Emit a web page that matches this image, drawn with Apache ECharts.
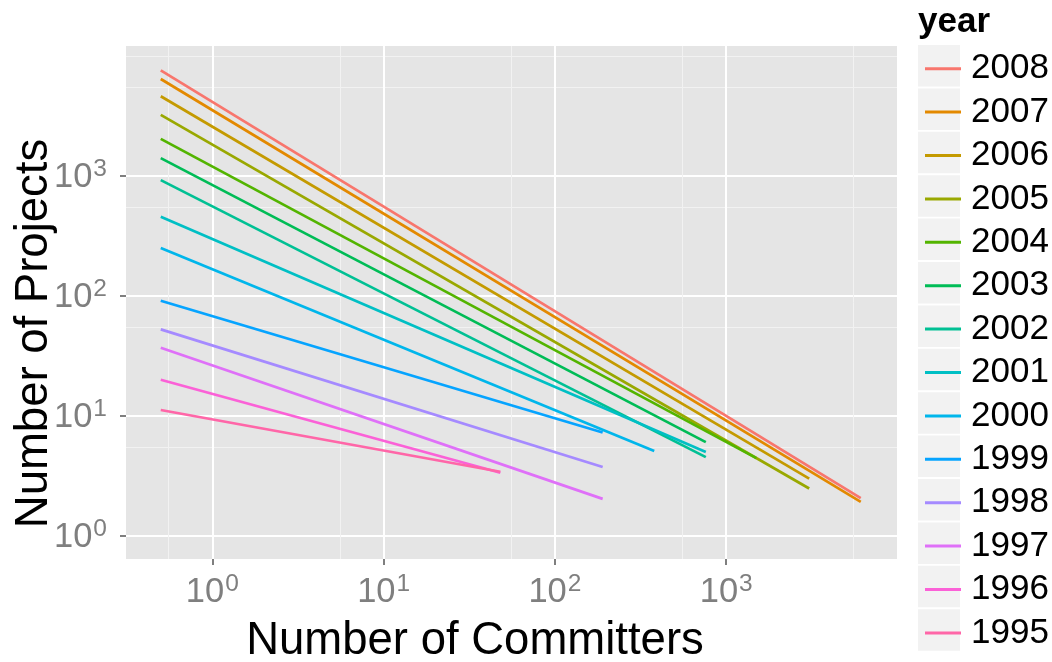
<!DOCTYPE html>
<html><head><meta charset="utf-8">
<script src="https://cdn.jsdelivr.net/npm/echarts@6/dist/echarts.min.js"></script>
<style>html,body{margin:0;padding:0;background:#fff}#chart{width:1052px;height:662px}</style>
</head><body><div id="chart"></div>
<script>
// ---- data ----
const years = ['2008','2007','2006','2005','2004','2003','2002','2001','2000','1999','1998','1997','1996','1995'];
const startCommitters = [0.5,0.5,0.5,0.5,0.5,0.5,0.5,0.5,0.5,0.5,0.5,0.5,0.5,0.5];
const endCommitters = [6100,6100,3050,3050,1500,760,760,760,380,190,190,190,48,48];
const startProjects = [7640,6470,4640,3245,2046,1413,926,458,251,91.4,52.7,37,20,11.2];
const endProjects = [2.06,1.92,3.0,2.48,4.44,6.04,4.53,5.0,5.1,7.26,3.74,2.03,3.35,3.42];
const colors = ['#F8766D','#E38900','#C49A00','#99A800','#53B400','#00BC56','#00C094','#00BFC4','#00B6EB','#06A4FF','#A58AFF','#DF70F8','#FB61D7','#FF66A8'];
const xMajorBreaks = [1,10,100,1000];
const yMajorBreaks = [1,10,100,1000];
const xMinorBreaks = [0.555,5.55,55.5,555,5550];
const yMinorBreaks = [5.5,55,550,5500,10000];
const xLimits = [0.3133, 9931];
const yLimits = [0.6397, 12190];

const FONT = "'Liberation Sans', Arial, Helvetica, sans-serif";
const chart = echarts.init(document.getElementById('chart'));

const expLabel = v => '{b|10}{s|' + Math.round(Math.log10(v)) + '}';
const rich = {
  b: {fontSize: 34.5, color: '#7F7F7F', fontFamily: FONT, lineHeight: 38, verticalAlign: 'bottom'},
  s: {fontSize: 24.5, color: '#7F7F7F', fontFamily: FONT, lineHeight: 25, verticalAlign: 'top', padding: [0,0,0,1]}
};

const series = years.map((y, i) => ({
  name: y, type: 'line', xAxisIndex: 0, yAxisIndex: 0, symbol: 'none', silent: true,
  lineStyle: {color: colors[i], width: 2.7}, itemStyle: {color: colors[i]},
  data: [[startCommitters[i], startProjects[i]], [endCommitters[i], endProjects[i]]]
}));

const keyBoxes = years.map((y, i) => ({
  type: 'rect', left: 918, top: 45 + 43.4 * i, z: -1,
  shape: {width: 42, height: 41.5}, style: {fill: '#F2F2F2'}
}));

chart.setOption({
  animation: false,
  backgroundColor: '#ffffff',
  grid: {left: 126, top: 46, right: 155, bottom: 103, show: true, backgroundColor: '#E5E5E5', borderWidth: 0, containLabel: false, outerBoundsMode: 'none'},
  xAxis: [{
    type: 'log', logBase: 10, min: xLimits[0], max: xLimits[1],
    name: 'Number of Committers', nameLocation: 'middle', nameGap: 59, nameMoveOverlap: false,
    nameTextStyle: {fontSize: 45.5, color: '#000', fontFamily: FONT, padding: [0, 73, 0, 0]},
    axisLine: {show: false},
    axisTick: {show: true, length: 6, lineStyle: {color: '#7F7F7F', width: 2}, customValues: xMajorBreaks},
    axisLabel: {customValues: xMajorBreaks, formatter: expLabel, rich: rich, margin: 13},
    splitLine: {show: true, lineStyle: {color: '#ffffff', width: 2}},
    minorTick: {show: false}, minorSplitLine: {show: false}
  }, {
    type: 'log', logBase: 10, min: xLimits[0], max: xLimits[1],
    axisLine: {show: false},
    axisTick: {show: false, customValues: xMinorBreaks},
    axisLabel: {show: false, customValues: xMinorBreaks},
    splitLine: {show: true, lineStyle: {color: '#F2F2F2', width: 1}}
  }],
  yAxis: [{
    type: 'log', logBase: 10, min: yLimits[0], max: yLimits[1],
    name: 'Number of Projects', nameLocation: 'middle', nameGap: 69, nameRotate: 90, nameMoveOverlap: false,
    nameTextStyle: {fontSize: 45.5, color: '#000', fontFamily: FONT, padding: [0, 62, 0, 0]},
    axisLine: {show: false},
    axisTick: {show: true, length: 6, lineStyle: {color: '#7F7F7F', width: 2}, customValues: yMajorBreaks},
    axisLabel: {customValues: yMajorBreaks, formatter: expLabel, rich: rich, margin: 19},
    splitLine: {show: true, lineStyle: {color: '#ffffff', width: 2}},
    minorTick: {show: false}, minorSplitLine: {show: false}
  }, {
    type: 'log', logBase: 10, min: yLimits[0], max: yLimits[1],
    axisLine: {show: false},
    axisTick: {show: false, customValues: yMinorBreaks},
    axisLabel: {show: false, customValues: yMinorBreaks},
    splitLine: {show: true, lineStyle: {color: '#F2F2F2', width: 1}}
  }],
  legend: {
    orient: 'vertical', left: 920, top: 42, itemGap: 0, itemWidth: 36, itemHeight: 3,
    icon: 'rect', selectedMode: false, data: years,
    textStyle: {fontSize: 35, color: '#000', fontFamily: FONT, lineHeight: 43.4, padding: [0, 0, 0, 5]}
  },
  graphic: [
    {type: 'text', left: 918, top: 5, style: {text: 'year', font: "bold 35px 'Liberation Sans', Arial, sans-serif", fill: '#000'}}
  ].concat(keyBoxes),
  series: series
});
</script></body></html>
